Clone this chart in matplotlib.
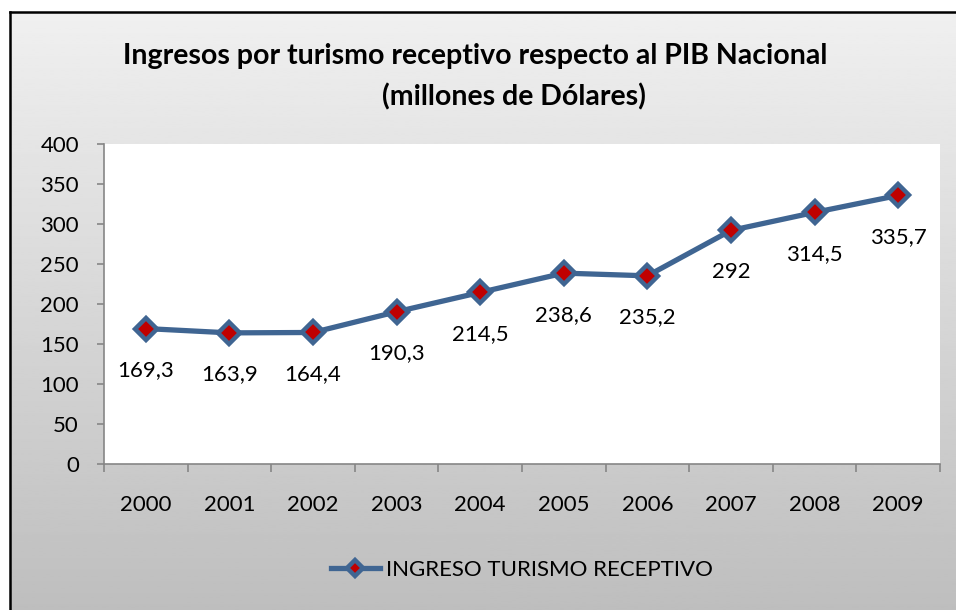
import matplotlib.pyplot as plt
import matplotlib as mpl
import numpy as np
from matplotlib.lines import Line2D

mpl.rcParams.update({
    'font.family': ['Lato', 'DejaVu Sans'],
    'font.size': 16,
})

years = ['2000', '2001', '2002', '2003', '2004', '2005', '2006', '2007', '2008', '2009']
ingreso = [169.3, 163.9, 164.4, 190.3, 214.5, 238.6, 235.2, 292, 314.5, 335.7]
value_labels = ['169,3', '163,9', '164,4', '190,3', '214,5', '238,6', '235,2', '292', '314,5', '335,7']
series_name = 'INGRESO TURISMO RECEPTIVO'

W, H = 956, 610
fig = plt.figure(figsize=(W / 100, H / 100), dpi=100)
fig.patch.set_facecolor('white')

# gradient chart-area background
bg = fig.add_axes([10 / W, 0, 1 - 10 / W, 1 - 13 / H])
grad = np.linspace(0.94, 0.745, 256).reshape(-1, 1)
bg.imshow(grad, aspect='auto', cmap='gray', vmin=0, vmax=1, extent=[0, 1, 0, 1])
bg.set_axis_off()

# black frame (only top/left visible)
fig.add_artist(Line2D([9.5 / W, 9.5 / W], [0, 1 - 12 / H], color='black', lw=1.8,
                      transform=fig.transFigure))
fig.add_artist(Line2D([9.5 / W, 1], [1 - 12 / H, 1 - 12 / H], color='black', lw=1.8,
                      transform=fig.transFigure))

fig.text(475 / W, 1 - 56 / H, 'Ingresos por turismo receptivo respecto al PIB Nacional',
         ha='center', va='center', fontsize=20.5, fontweight='bold')
fig.text(514 / W, 1 - 97 / H, '(millones de Dólares)',
         ha='center', va='center', fontsize=20.5, fontweight='bold')

ax = fig.add_axes([104 / W, 1 - 464 / H, 836 / W, 320 / H])
ax.set_facecolor('white')
x = np.arange(len(years))
line_color = '#3F6592'
ax.plot(x, ingreso, color=line_color, lw=3.8, marker='D', markersize=11,
        markerfacecolor='#C00000', markeredgecolor=line_color, markeredgewidth=3.2,
        label=series_name, solid_joinstyle='round')

for xi, v, lab in zip(x, ingreso, value_labels):
    ax.annotate(lab, xy=(xi, v), xytext=(0, -30), textcoords='offset points',
                ha='center', va='center', fontsize=16)

ax.set_xlim(-0.5, len(years) - 0.5)
ax.set_ylim(0, 400)
ax.set_yticks(np.arange(0, 401, 50))
ax.set_xticks(x)
ax.set_xticklabels(years)
ax.set_xticks(np.arange(-0.5, len(years)), minor=True)
ax.tick_params(axis='x', which='major', length=0, pad=22)
ax.tick_params(axis='x', which='minor', length=6, width=1.2, color='#868686', direction='out')
ax.tick_params(axis='y', length=5, width=1.2, color='#868686', direction='out', pad=13)

for s in ['top', 'right']:
    ax.spines[s].set_visible(False)
for s in ['left', 'bottom']:
    ax.spines[s].set_color('#868686')
    ax.spines[s].set_linewidth(1.2)

handles, labels = ax.get_legend_handles_labels()
fig.legend(handles, labels, loc='center', bbox_to_anchor=(522 / W, 1 - 570 / H),
           frameon=False, fontsize=16, handlelength=2.2, handletextpad=0.3,
           markerscale=0.75)

fig.savefig('out.png', dpi=100)
